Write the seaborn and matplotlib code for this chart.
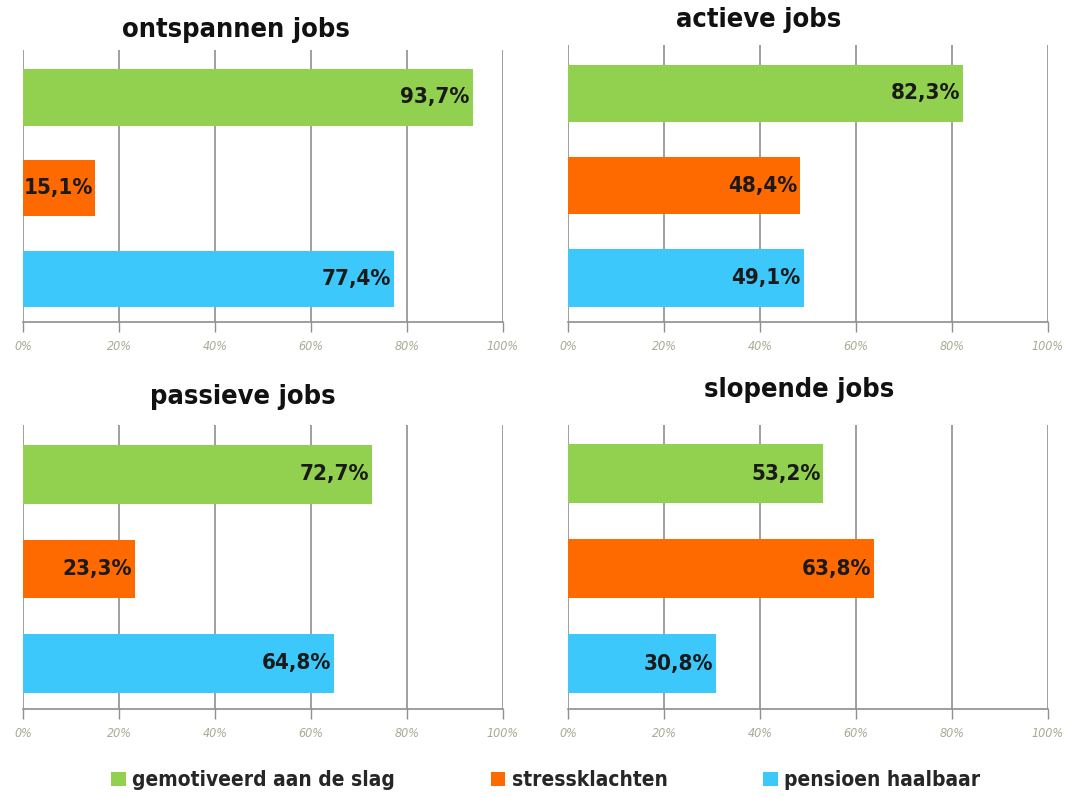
import pandas as pd
import matplotlib.pyplot as plt
import seaborn as sns
from matplotlib.patches import Patch

# data
panels = ["ontspannen jobs", "actieve jobs", "passieve jobs", "slopende jobs"]
categories = ["gemotiveerd aan de slag", "stressklachten", "pensioen haalbaar"]
gemotiveerd = [93.7, 82.3, 72.7, 53.2]
stress = [15.1, 48.4, 23.3, 63.8]
pensioen = [77.4, 49.1, 64.8, 30.8]
ticks = [0, 20, 40, 60, 80, 100]

colors = ["#92D050", "#FF6A00", "#3CC8FA"]

rows = []
for i, p in enumerate(panels):
    for c, v in zip(categories, [gemotiveerd[i], stress[i], pensioen[i]]):
        rows.append({"panel": p, "category": c, "value": v})
df = pd.DataFrame(rows)

sns.set_theme(style="white")
plt.rcParams['font.family'] = ['DejaVu Sans']
plt.rcParams['font.stretch'] = 'condensed'

fig = plt.figure(figsize=(10.66, 7.98), dpi=100)

# axes rectangles (left, bottom, width, height) and title positions
rects = [
    (0.0216, 0.596, 0.450, 0.341),
    (0.533, 0.596, 0.450, 0.347),
    (0.0216, 0.112, 0.450, 0.355),
    (0.533, 0.111, 0.450, 0.357),
]
title_pos = [(0.221, 0.962), (0.712, 0.975), (0.228, 0.502), (0.75, 0.511)]

for p, rect, tp in zip(panels, rects, title_pos):
    ax = fig.add_axes(rect)
    sub = df[df["panel"] == p]
    ax.grid(axis="x", color="#8f8f8f", linewidth=1.2)
    ax.set_axisbelow(True)
    sns.barplot(data=sub, x="value", y="category", hue="category",
                palette=colors, order=categories, hue_order=categories,
                orient="h", width=0.62, ax=ax, legend=False, saturation=1)
    for patch in ax.patches:
        patch.set_edgecolor("none")
    for bar, v in zip(ax.patches, sub["value"]):
        ax.text(bar.get_width() - 0.6, bar.get_y() + bar.get_height() / 2,
                f"{v:.1f}%".replace(".", ","), ha="right", va="center",
                fontsize=16, fontweight="bold", color="#1a1a1a")
    ax.set_xlim(0, 100)
    ax.set_ylim(2.48, -0.52)
    ax.set_xticks(ticks)
    ax.set_xticklabels([f"{t}%" for t in ticks], fontstyle="italic",
                       color="#a9a993", fontsize=9)
    ax.set_yticks([])
    ax.set_xlabel("")
    ax.set_ylabel("")
    ax.tick_params(axis="x", direction="out", length=7, width=1,
                   color="#8f8f8f", bottom=True, pad=6)
    for s in ["top", "right", "left"]:
        ax.spines[s].set_visible(False)
    ax.spines["bottom"].set_color("#8f8f8f")
    ax.spines["bottom"].set_linewidth(1.2)
    fig.text(tp[0], tp[1], p, ha="center", va="center",
             fontsize=19.5, fontweight="bold", color="#111111")

handles = [Patch(facecolor=c, edgecolor="none") for c in colors]
fig.legend(handles, categories, loc="center", bbox_to_anchor=(0.512, 0.022),
           ncol=3, frameon=False, handlelength=0.7,
           handleheight=0.7, handletextpad=0.3, columnspacing=4.6,
           prop={"weight": "bold", "size": 15})

plt.savefig("out.png", dpi=100)
plt.close()
